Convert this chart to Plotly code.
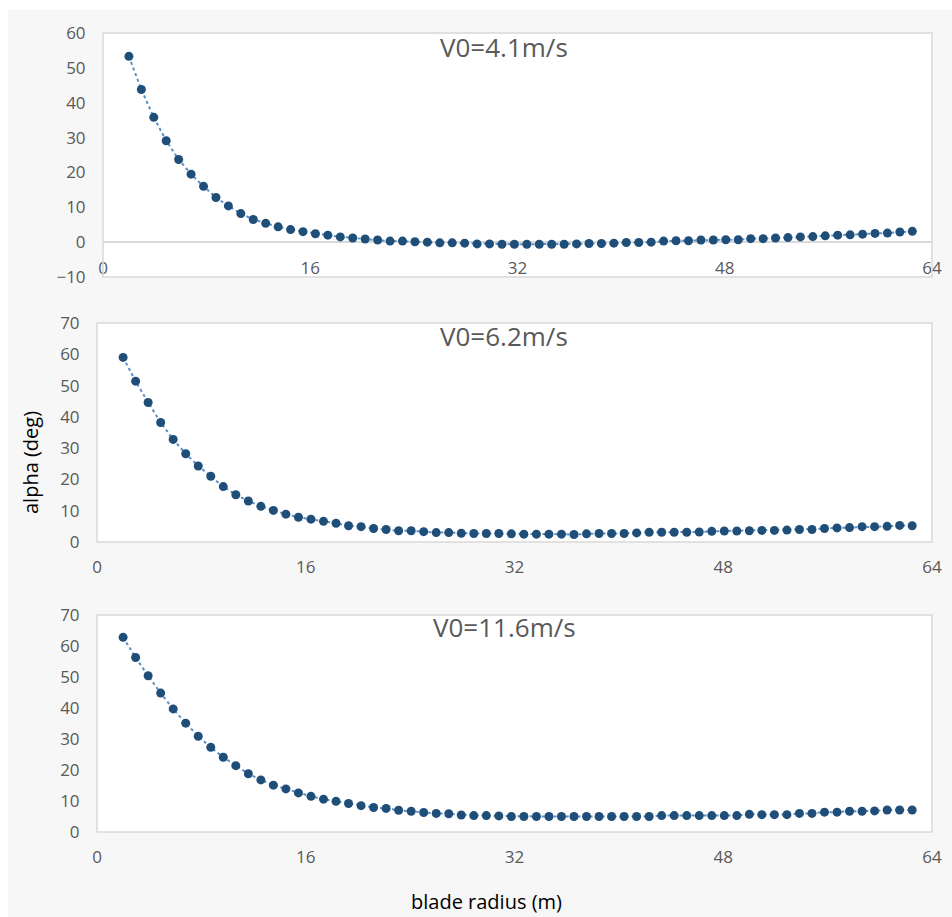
import plotly.graph_objects as go

W, H = 952, 917

radius = [2.00, 2.96, 3.92, 4.88, 5.84, 6.80, 7.76, 8.72, 9.68, 10.64,
          11.60, 12.56, 13.52, 14.48, 15.44, 16.40, 17.36, 18.32, 19.28, 20.24,
          21.20, 22.16, 23.12, 24.08, 25.04, 26.00, 26.96, 27.92, 28.88, 29.84,
          30.80, 31.76, 32.72, 33.68, 34.64, 35.60, 36.56, 37.52, 38.48, 39.44,
          40.40, 41.36, 42.32, 43.28, 44.24, 45.20, 46.16, 47.12, 48.08, 49.04,
          50.00, 50.96, 51.92, 52.88, 53.84, 54.80, 55.76, 56.72, 57.68, 58.64,
          59.60, 60.56, 61.52, 62.48]

alpha_v41 = [53.3, 43.8, 35.8, 29.1, 23.7, 19.5, 16.0, 12.8, 10.4, 8.2,
             6.5, 5.4, 4.4, 3.6, 3.0, 2.4, 2.0, 1.5, 1.2, 0.9,
             0.6, 0.3, 0.3, 0.1, 0.0, -0.2, -0.2, -0.3, -0.5, -0.5,
             -0.6, -0.6, -0.6, -0.6, -0.6, -0.6, -0.5, -0.4, -0.4, -0.3,
             -0.1, -0.1, 0.0, 0.3, 0.4, 0.4, 0.6, 0.6, 0.7, 0.7,
             1.0, 1.0, 1.2, 1.3, 1.5, 1.6, 1.8, 2.0, 2.1, 2.3,
             2.5, 2.6, 2.9, 3.1]

alpha_v62 = [59.0, 51.4, 44.6, 38.2, 32.8, 28.2, 24.3, 21.0, 17.7, 15.1,
             13.1, 11.4, 10.1, 8.9, 7.9, 7.3, 6.6, 6.0, 5.2, 4.9,
             4.3, 4.0, 3.6, 3.6, 3.3, 3.0, 3.0, 2.8, 2.7, 2.7,
             2.7, 2.6, 2.5, 2.5, 2.5, 2.5, 2.4, 2.6, 2.7, 2.7,
             2.7, 2.9, 3.1, 3.1, 3.1, 3.1, 3.2, 3.4, 3.5, 3.5,
             3.6, 3.7, 3.7, 3.8, 4.0, 4.0, 4.3, 4.5, 4.6, 4.9,
             4.9, 5.0, 5.3, 5.2]

alpha_v116 = [62.8, 56.3, 50.4, 44.8, 39.7, 35.1, 30.9, 27.3, 24.1, 21.4,
              18.8, 16.8, 15.1, 13.9, 12.6, 11.5, 10.6, 9.9, 9.2, 8.5,
              7.9, 7.6, 7.0, 6.7, 6.3, 6.0, 5.9, 5.5, 5.3, 5.3,
              5.2, 5.0, 5.0, 5.0, 5.0, 5.0, 5.0, 5.0, 5.0, 5.0,
              5.0, 5.0, 5.0, 5.3, 5.3, 5.3, 5.3, 5.3, 5.3, 5.3,
              5.7, 5.6, 5.6, 5.6, 6.0, 6.0, 6.4, 6.4, 6.7, 6.7,
              6.8, 7.1, 7.1, 7.1]

titles = ["V0=4.1m/s", "V0=6.2m/s", "V0=11.6m/s"]
series = [alpha_v41, alpha_v62, alpha_v116]
y_ranges = [[-10, 60], [0, 70], [0, 70]]
x_ticks = [0, 16, 32, 48, 64]

# pixel boxes: (left, right, top, bottom)
boxes = [(103, 932, 33, 277), (97, 932, 323, 542), (97, 932, 615, 832)]
title_y = [47, 336, 627]

FONT = "Open Sans"
TICK_COL = "#595959"
BORDER = "#d9d9d9"
MARK_COL = "#1f4e79"
LINE_COL = "#5b8fc9"

fig = go.Figure()
layout = dict(
    width=W, height=H, autosize=False,
    margin=dict(l=0, r=0, t=0, b=0, pad=0),
    paper_bgcolor="#f7f7f7",
    plot_bgcolor="white",
    showlegend=False,
    font=dict(family=FONT, color=TICK_COL),
    shapes=[], annotations=[],
)

for i in range(3):
    l, r, t, b = boxes[i]
    xd = [l / W, r / W]
    yd = [1 - b / H, 1 - t / H]
    xn = "x" if i == 0 else f"x{i+1}"
    yn = "y" if i == 0 else f"y{i+1}"
    xk = "xaxis" if i == 0 else f"xaxis{i+1}"
    yk = "yaxis" if i == 0 else f"yaxis{i+1}"
    fig.add_trace(go.Scatter(
        x=radius, y=series[i], xaxis=xn, yaxis=yn, mode="lines+markers",
        line=dict(color=LINE_COL, width=2, dash="dot"),
        marker=dict(color=MARK_COL, size=9),
    ))
    y0, y1 = y_ranges[i]
    zero_pos = yd[0] + (0 - y0) / (y1 - y0) * (yd[1] - yd[0])
    layout[xk] = dict(
        domain=xd, range=[0, 64], tickvals=x_ticks, showgrid=False,
        zeroline=False, showline=False, anchor="free", position=zero_pos,
        ticks="outside", ticklen=10, tickcolor="rgba(0,0,0,0)",
        tickfont=dict(size=17, color=TICK_COL, family=FONT),
        automargin=False,
    )
    layout[yk] = dict(
        domain=yd, range=y_ranges[i], dtick=10, showgrid=False,
        zeroline=(i == 0), zerolinecolor=BORDER, zerolinewidth=1.5,
        showline=False, anchor=xn,
        ticks="outside", ticklen=13, tickcolor="rgba(0,0,0,0)",
        tickfont=dict(size=17, color=TICK_COL, family=FONT),
        automargin=False,
    )
    layout["shapes"].append(dict(
        type="rect", xref=f"{xn} domain", yref=f"{yn} domain",
        x0=0, x1=1, y0=0, y1=1, line=dict(color=BORDER, width=1.5),
        layer="above",
    ))
    layout["annotations"].append(dict(
        text=titles[i], xref="paper", yref="paper", x=504 / W,
        y=1 - title_y[i] / H, xanchor="center", yanchor="middle",
        showarrow=False, font=dict(size=26, color=TICK_COL, family=FONT),
    ))

# white outer margins
layout["shapes"].append(dict(type="rect", xref="paper", yref="paper",
                             x0=0, x1=1, y0=1 - 10 / H, y1=1,
                             fillcolor="white", line=dict(width=0), layer="below"))
layout["shapes"].append(dict(type="rect", xref="paper", yref="paper",
                             x0=0, x1=8 / W, y0=0, y1=1,
                             fillcolor="white", line=dict(width=0), layer="below"))

layout["annotations"].append(dict(
    text="alpha (deg)", xref="paper", yref="paper", x=30 / W, y=1 - 463 / H,
    textangle=-90, xanchor="center", yanchor="middle", showarrow=False,
    font=dict(size=20, color="black", family=FONT),
))
layout["annotations"].append(dict(
    text="blade radius (m)", xref="paper", yref="paper", x=487 / W, y=1 - 901 / H,
    xanchor="center", yanchor="middle", showarrow=False,
    font=dict(size=20, color="black", family=FONT),
))

fig.update_layout(**layout)
fig.write_html(
    "out.html",
    config={"displayModeBar": False, "responsive": False},
    post_script="document.body.style.margin='0';document.body.style.padding='0';"
                "document.body.style.overflow='hidden';",
)
